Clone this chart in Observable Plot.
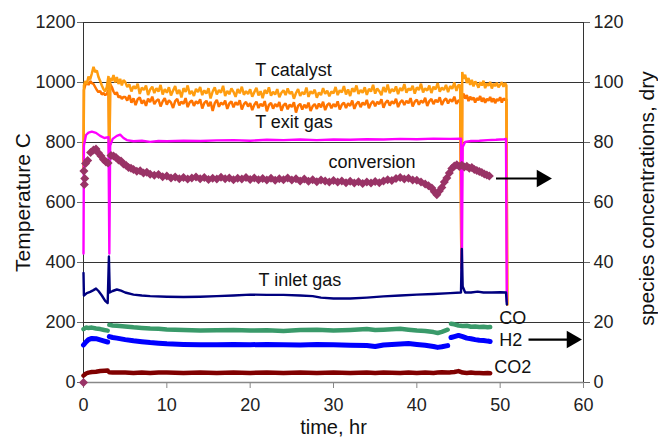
<!DOCTYPE html>
<html>
<head>
<meta charset="utf-8">
<script src="https://cdn.jsdelivr.net/npm/d3@7"></script>
<script src="https://cdn.jsdelivr.net/npm/@observablehq/plot@0.6"></script>
<style>
  html, body { margin: 0; padding: 0; background: #fff; }
  #chart { width: 658px; height: 439px; }
</style>
</head>
<body>
<div id="chart"></div>
<script>
// ---- axes ----
const xTicks = [0, 10, 20, 30, 40, 50, 60];
const yTicks = [0, 200, 400, 600, 800, 1000, 1200];
const rightTickLabels = ["0", "20", "40", "60", "80", "100", "120"];

// ---- T catalyst (two thermocouples), deg C ----
const catTime = [
  0, 0.05, 0.2, 0.4, 0.6, 0.8, 1.0, 1.2, 1.4, 1.6, 1.8, 2.0, 2.2, 2.4, 2.6, 2.8, 3.0, 3.1, 3.2, 3.4, 3.6, 3.8, 4.0, 4.2, 4.4, 4.6, 4.8,
  5.0, 5.25, 5.5, 5.75, 6.0, 6.25, 6.5, 6.75, 7.0, 7.25, 7.5, 7.75, 8.0, 8.25, 8.5, 8.75, 9.0, 9.25, 9.5, 9.75,
  10.0, 10.25, 10.5, 10.75, 11.0, 11.25, 11.5, 11.75, 12.0, 12.25, 12.5, 12.75, 13.0, 13.25, 13.5, 13.75, 14.0, 14.25, 14.5, 14.75,
  15.0, 15.25, 15.5, 15.75, 16.0, 16.25, 16.5, 16.75, 17.0, 17.25, 17.5, 17.75, 18.0, 18.25, 18.5, 18.75, 19.0, 19.25, 19.5, 19.75,
  20.0, 20.25, 20.5, 20.75, 21.0, 21.25, 21.5, 21.75, 22.0, 22.25, 22.5, 22.75, 23.0, 23.25, 23.5, 23.75, 24.0, 24.25, 24.5, 24.75,
  25.0, 25.25, 25.5, 25.75, 26.0, 26.25, 26.5, 26.75, 27.0, 27.25, 27.5, 27.75, 28.0, 28.25, 28.5, 28.75, 29.0, 29.25, 29.5, 29.75,
  30.0, 30.25, 30.5, 30.75, 31.0, 31.25, 31.5, 31.75, 32.0, 32.25, 32.5, 32.75, 33.0, 33.25, 33.5, 33.75, 34.0, 34.25, 34.5, 34.75,
  35.0, 35.25, 35.5, 35.75, 36.0, 36.25, 36.5, 36.75, 37.0, 37.25, 37.5, 37.75, 38.0, 38.25, 38.5, 38.75, 39.0, 39.25, 39.5, 39.75,
  40.0, 40.25, 40.5, 40.75, 41.0, 41.25, 41.5, 41.75, 42.0, 42.25, 42.5, 42.75, 43.0, 43.25, 43.5, 43.75, 44.0, 44.25, 44.5, 44.75,
  45.0,
  45.2, 45.35, 45.45, 45.6, 45.8, 46.0, 46.2, 46.4, 46.6, 46.8, 47.0, 47.2, 47.4, 47.6, 47.8, 48.0, 48.2, 48.4,
  48.6, 48.8, 49.0, 49.2, 49.4, 49.6, 49.8, 50.0, 50.2, 50.4, 50.6, 50.75, 50.85
];
const catUpper = [
  700, 990, 1005, 995, 1020, 1010, 1030, 1052, 1035, 1040, 1018, 1005, 990, 978, 970, 985, 1022, 700, 1015, 1005, 1025, 1000, 1018, 995, 1012, 990, 1008,
  1002, 985, 994, 970, 988, 979, 996, 962, 983, 975, 990, 958, 977, 986, 965, 981, 970, 992, 960, 978,
  966, 984, 957, 973, 988, 962, 976, 950, 981, 969, 990, 961, 972, 955, 979, 968, 985, 958, 974, 963,
  981, 947, 970, 984, 960, 975, 966, 989, 955, 972, 961, 980, 969, 952, 978, 964, 986, 959, 971, 962,
  977, 953, 968, 982, 957, 971, 948, 975, 963, 984, 956, 969, 960, 978, 951, 966, 974, 958, 980, 962,
  970, 946, 965, 978, 955, 968, 960, 983, 952, 971, 963, 976, 949, 967, 958, 981, 962, 973, 954, 970,
  964, 985, 958, 974, 967, 988, 960, 977, 955, 981, 969, 990, 962, 975, 966, 984, 959, 979, 970, 992,
  963, 980, 971, 958, 985, 968, 993, 964, 978, 970, 987, 961, 982, 972, 995, 966, 980, 974, 989, 963,
  984, 975, 996, 967, 981, 973, 990, 965, 986, 977, 998, 969, 983, 975, 992, 968, 988, 979, 1000, 972,
  992,
  990, 380, 1035, 1012, 1026, 998, 1015, 992, 1009, 987, 1004, 995, 983, 1001, 990, 1006, 981, 997,
  989, 1002, 980, 996, 988, 999, 984, 993, 1001, 986, 998, 990, 260
];
const catLower = [
  700, 975, 990, 1000, 992, 1005, 998, 995, 985, 975, 968, 972, 960, 965, 958, 962, 975, 700, 995, 985, 970, 960, 968, 950, 955, 945, 952,
  952, 940, 958, 933, 947, 925, 944, 950, 930, 941, 922, 946, 935, 953, 928, 939, 944, 920, 937, 948,
  926, 941, 933, 915, 938, 945, 924, 936, 929, 948, 918, 934, 940, 922, 937, 930, 944, 913, 932, 939,
  921, 936, 905, 931, 942, 919, 933, 926, 940, 912, 930, 937, 917, 934, 925, 941, 910, 928, 935, 920,
  931, 908, 926, 936, 915, 929, 921, 938, 904, 925, 932, 913, 928, 919, 935, 906, 924, 930, 911, 927,
  918, 934, 900, 922, 929, 910, 926, 915, 933, 905, 921, 928, 912, 930, 917, 936, 908, 925, 931, 914,
  928, 919, 937, 910, 926, 933, 915, 931, 922, 940, 912, 929, 936, 918, 933, 925, 942, 914, 930, 938,
  921, 936, 928, 944, 916, 933, 940, 923, 937, 929, 946, 918, 934, 941, 925, 939, 931, 948, 920, 936,
  943, 926, 940, 932, 949, 922, 938, 945, 928, 942, 934, 951, 925, 940, 947, 930, 944, 936, 953, 929,
  940,
  940, 380, 955, 963, 946, 958, 938, 953, 942, 950, 933, 948, 941, 955, 936, 949, 932, 946,
  939, 952, 935, 947, 931, 945, 939, 951, 933, 947, 941, 945, 260
];

// ---- T exit gas, deg C ----
const exitTime = [0, 0.05, 0.3, 0.6, 1.0, 1.5, 2.0, 2.5, 3.0, 3.1, 3.2, 3.5, 4.0, 4.4, 4.8, 5.2, 6, 7, 8, 9, 10, 12, 14, 16, 18, 20,
  22, 24, 26, 28, 30, 32, 34, 36, 38, 40, 42, 44, 45.3, 45.4, 45.5, 45.8, 46.5, 47.5, 48.5, 49.5, 50.5, 50.7, 50.8];
const exitGas = [430, 790, 825, 833, 836, 832, 822, 815, 818, 430, 790, 812, 822, 826, 815, 808, 804, 806, 802, 805, 804, 806, 805, 807, 808, 806,
  809, 808, 810, 808, 810, 809, 811, 810, 812, 811, 813, 812, 813, 360, 785, 802, 805, 806, 808, 809, 811, 812, 270];

// ---- T inlet gas, deg C ----
const inletTime = [0, 0.05, 0.4, 0.8, 1.2, 1.5, 1.8, 2.2, 2.6, 2.9, 3.05, 3.15, 3.5, 4.0, 4.5, 5, 6, 7, 8, 10, 12, 14, 16, 18, 20,
  22, 24, 26, 27.5, 28.5, 30, 32, 34, 36, 38, 40, 42, 44, 45.3, 45.4, 45.5, 45.8, 46.5, 47.3, 48, 49, 50, 50.7, 50.8];
const inletGas = [365, 290, 298, 302, 308, 313, 305, 290, 272, 265, 420, 300, 305, 310, 306, 300, 293, 290, 288, 286, 285, 286, 288, 290, 293,
  292, 292, 290, 288, 283, 280, 280, 283, 287, 290, 293, 295, 298, 300, 445, 320, 300, 300, 303, 300, 300, 301, 300, 260];

// ---- conversion, % (right axis) ----
const convTime = [0, 0.05, 0.1, 0.15, 0.25, 0.5, 0.85, 1.2, 1.5, 1.8, 2.1, 2.4, 2.7, 2.95, 3.3, 3.6, 3.9, 4.2, 4.5, 4.8, 5.1, 5.4, 5.7,
  6.0, 6.4, 6.8, 7.2, 7.6, 8.0, 8.5, 9.0, 9.5, 10, 10.5, 11, 11.5, 12, 12.5, 13, 13.5, 14, 14.5, 15, 15.5, 16, 16.5, 17, 17.5,
  18, 18.5, 19, 19.5, 20, 20.5, 21, 21.5, 22, 22.5, 23, 23.5, 24, 24.5, 25, 25.5, 26, 26.5, 27, 27.5, 28, 28.5, 29, 29.5,
  30, 30.5, 31, 31.5, 32, 32.5, 33, 33.5, 34, 34.5, 35, 35.5, 36, 36.5, 37, 37.5, 38, 38.5, 39, 39.5, 40, 40.5, 41, 41.4,
  41.8, 42.1, 42.4, 42.7, 43.0, 43.3, 43.6, 43.9, 44.2, 44.5, 44.8, 45.1, 45.4, 45.7, 46.0, 46.3, 46.6, 46.9, 47.2, 47.5,
  47.8, 48.1, 48.4, 48.7];
const conversion = [0, 70.5, 66, 68, 73, 74, 76.7, 77.5, 77.8, 76.5, 75.5, 74.3, 73.5, 73.2, 75.7, 75.5, 75, 74.2, 73.8, 72.8, 72.4, 71.7, 71.4,
  71, 70.4, 70.6, 69.8, 70.1, 69.4, 69.1, 69.3, 68.6, 68.8, 68.2, 68.5, 67.9, 68.3, 67.8, 68.2, 68.5, 67.9, 68.3, 67.7, 68.1, 67.8, 68.4, 67.9, 68.2,
  67.6, 68.1, 67.8, 68.3, 67.7, 68.2, 67.6, 68.0, 67.5, 68.1, 67.4, 67.9, 67.6, 68.2, 67.5, 67.9, 67.2, 67.8, 67.1, 67.6, 66.9, 67.5, 67.2, 66.8,
  67.3, 66.8, 67.2, 66.6, 67.1, 66.5, 66.9, 66.3, 66.8, 66.5, 67.0, 66.6, 67.2, 67.6, 67.3, 68.0, 68.3, 67.8, 68.1, 67.5, 67.4, 66.8, 66.2, 65.6,
  64.8, 63.6, 62.6, 63.8, 65.0, 66.8, 68.2, 69.8, 71.3, 72.2, 72.6, 72.0, 72.4, 71.8, 72.1, 71.4, 71.7, 71.0, 70.7, 70.3,
  70.0, 69.5, 69.2, 68.8];

// ---- species concentrations, % dry (right axis); null = gap ----
const gasTime = [0, 0.3, 0.6, 1.0, 1.5, 2.0, 2.5, 2.9, 3.0, 3.1, 3.5, 4, 5, 6, 7, 8, 9, 10, 12, 14, 16, 18, 20, 22, 24, 26, 28,
  30, 32, 34, 35, 36, 38, 39, 40, 41, 42, 42.5, 43, 43.7, 43.9, 44.1, 44.5, 45, 45.5, 46, 46.5, 47, 47.5, 48, 48.5, 48.8];
const coConc = [17.8, 18.3, 18.2, 18.3, 18.0, 17.8, 17.5, 17.3, null, 19.2, 19.0, 18.9, 18.7, 18.4, 18.2, 18.0, 17.9, 17.7, 17.5, 17.3, 17.4, 17.5, 17.3, 17.4, 17.2, 17.5, 17.6,
  17.3, 17.5, 17.8, 17.5, 17.6, 17.9, 17.6, 17.3, 17.2, 16.8, 16.5, 16.9, 17.6, null, 19.6, 19.4, 19.0, 18.8, 18.9, 18.6, 18.7, 18.5, 18.6, 18.4, 18.5];
const h2Conc = [12.5, 13.5, 14.3, 14.7, 14.6, 14.2, 13.8, 13.5, null, 15.3, 15.0, 14.8, 14.3, 13.9, 13.6, 13.3, 13.1, 12.9, 12.7, 12.6, 12.6, 12.7, 12.6, 12.7, 12.6, 12.5, 12.7,
  12.6, 12.4, 12.3, 12.0, 12.5, 12.8, 13.0, 12.7, 12.4, 12.0, 11.7, 11.9, 12.3, null, 15.0, 15.3, 15.7, 15.3, 14.8, 14.6, 14.3, 14.1, 14.0, 13.8, 13.7];
const co2Conc = [2.3, 3.0, 3.3, 3.5, 3.6, 3.8, 3.9, 4.0, null, 3.4, 3.3, 3.3, 3.3, 3.2, 3.3, 3.2, 3.3, 3.3, 3.2, 3.3, 3.2, 3.3, 3.2, 3.3, 3.2, 3.3, 3.2,
  3.3, 3.2, 3.3, 3.2, 3.3, 3.2, 3.3, 3.2, 3.3, 3.2, 3.3, 3.4, 3.3, 3.3, 3.4, 3.5, 3.8, 3.3, 3.2, 3.3, 3.2, 3.2, 3.1, 3.2, 3.1];

// ---- annotations ----
const tempLabels = ["T catalyst", "T exit gas", "T inlet gas"];
const tempLabelTime = [20.6, 20.6, 21.0];
const tempLabelValue = [1040, 867, 340];
const pctLabels = ["conversion", "CO", "H2", "CO2"];
const pctLabelTime = [29.4, 49.9, 49.9, 49.3];
const pctLabelValue = [73.3, 21.3, 14.0, 5.0];
const arrowStart = [49.5, 53.4];
const arrowEnd = [55.0, 58.6];
const arrowLevel = [68.0, 14.3];

// ---- build tables ----
const zip = (ts, vs) => ts.map((t, i) => ({t, v: vs[i]}));
const upperData = zip(catTime, catUpper);
const lowerData = zip(catTime, catLower);
const exitData = zip(exitTime, exitGas);
const inletData = zip(inletTime, inletGas);
const convData = zip(convTime, conversion);
const coData = zip(gasTime, coConc);
const h2Data = zip(gasTime, h2Conc);
const co2Data = zip(gasTime, co2Conc);
const tempLab = tempLabels.map((s, i) => ({s, t: tempLabelTime[i], v: tempLabelValue[i]}));
const pctLab = pctLabels.map((s, i) => ({s, t: pctLabelTime[i], v: pctLabelValue[i]}));
const arrows = arrowStart.map((a, i) => ({x1: a, x2: arrowEnd[i], v: arrowLevel[i]}));

const pct = d => d.v == null ? NaN : d.v * 10;  // right axis: 0-120 maps onto 0-1200
const FONT = "'Liberation Sans', Arial, Helvetica, sans-serif";

const chart = Plot.plot({
  width: 658,
  height: 439,
  marginLeft: 83,
  marginRight: 75,
  marginTop: 22,
  marginBottom: 57,
  style: {fontFamily: FONT, fontSize: "18px", color: "#111", background: "#fff"},
  x: {domain: [0, 60]},
  y: {domain: [0, 1200]},
  marks: [
    Plot.ruleY(yTicks.filter(d => d > 0), {stroke: "#333", strokeWidth: 1}),
    Plot.ruleY([0], {stroke: "#888", strokeWidth: 1.5}),
    Plot.ruleX([0, 60], {y1: 0, y2: 1200, stroke: "#333", strokeWidth: 1}),
    Plot.axisX({ticks: xTicks, tickSize: 6, tickPadding: 10, tickFormat: d => String(d), label: null, stroke: "#888", fill: "#222", fontSize: 18}),
    Plot.axisY({anchor: "left", ticks: yTicks, tickSize: 6, tickPadding: 2, tickFormat: d => String(d), label: null, stroke: "#666", fill: "#222", fontSize: 18}),
    Plot.axisY({anchor: "right", ticks: yTicks, tickSize: 6, tickPadding: 4, tickFormat: (d, i) => rightTickLabels[i], label: null, stroke: "#666", fill: "#222", fontSize: 18}),
    // temperatures
    Plot.line(lowerData, {x: "t", y: "v", stroke: "#ff7400", strokeWidth: 2.5, strokeLinejoin: "miter"}),
    Plot.line(upperData, {x: "t", y: "v", stroke: "#ff9d10", strokeWidth: 2.5, strokeLinejoin: "miter"}),
    Plot.line(exitData, {x: "t", y: "v", stroke: "#ff00ff", strokeWidth: 2.4}),
    Plot.line(inletData, {x: "t", y: "v", stroke: "#00007f", strokeWidth: 2.4}),
    // species concentrations
    Plot.line(coData, {x: "t", y: pct, stroke: "#3a9a6a", strokeWidth: 4.5}),
    Plot.line(h2Data, {x: "t", y: pct, stroke: "#0000ff", strokeWidth: 5}),
    Plot.line(co2Data, {x: "t", y: pct, stroke: "#800000", strokeWidth: 4.5}),
    // conversion
    Plot.dot(convData, {x: "t", y: pct, symbol: "square", rotate: 45, r: 3.6, fill: "#993366", stroke: "none"}),
    // labels
    Plot.text(tempLab, {x: "t", y: "v", text: "s", textAnchor: "start", fill: "#111", fontSize: 18}),
    Plot.text(pctLab, {x: "t", y: pct, text: "s", textAnchor: "start", fill: "#111", fontSize: 18}),
    // arrows
    Plot.link(arrows, {x1: "x1", x2: "x2", y1: pct, y2: pct, stroke: "#000", strokeWidth: 2.2}),
    Plot.dot(arrows, {x: "x2", y: pct, symbol: "triangle", rotate: 90, r: 6.5, fill: "#000", stroke: "none"}),
    // axis titles
    Plot.text(["Temperature C"], {frameAnchor: "left", textAnchor: "middle", lineAnchor: "middle", dx: -60, rotate: -90, fontSize: 21, fill: "#111"}),
    Plot.text(["species concentrations, dry"], {frameAnchor: "right", textAnchor: "middle", lineAnchor: "middle", dx: 64, dy: -4, rotate: -90, fontSize: 21, fill: "#111"}),
    Plot.text(["time, hr"], {frameAnchor: "bottom", textAnchor: "middle", lineAnchor: "middle", dy: 45, fontSize: 20, fill: "#111"})
  ]
});
document.getElementById("chart").appendChild(chart);
</script>
</body>
</html>
